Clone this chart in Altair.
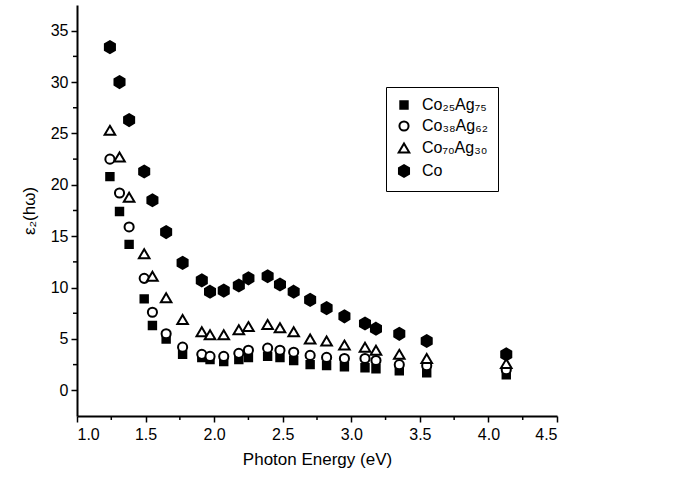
import altair as alt
import pandas as pd

# Photon energies (eV)
energy = [1.24, 1.31, 1.38, 1.49, 1.55, 1.65, 1.77, 1.91, 1.97, 2.07, 2.18, 2.25,
          2.39, 2.48, 2.58, 2.70, 2.82, 2.95, 3.10, 3.18, 3.35, 3.55, 4.13]

# epsilon_2 values per sample
co25ag75 = [20.8, 17.4, 14.2, 8.9, 6.3, 5.0, 3.5, 3.2, 3.0, 2.8, 3.0, 3.2,
            3.3, 3.2, 2.9, 2.5, 2.4, 2.3, 2.2, 2.1, 1.9, 1.7, 1.5]
co38ag62 = [22.5, 19.2, 15.9, 10.9, 7.6, 5.5, 4.2, 3.5, 3.3, 3.3, 3.6, 3.9,
            4.1, 3.9, 3.7, 3.4, 3.2, 3.1, 3.1, 2.9, 2.5, 2.4, 2.0]
co70ag30 = [25.3, 22.7, 18.8, 13.3, 11.1, 9.0, 6.9, 5.7, 5.4, 5.4, 5.9, 6.2,
            6.4, 6.1, 5.7, 5.0, 4.8, 4.4, 4.2, 3.9, 3.5, 3.1, 2.6]
co = [33.4, 30.0, 26.3, 21.3, 18.5, 15.4, 12.4, 10.7, 9.6, 9.7, 10.2, 10.9,
      11.1, 10.3, 9.6, 8.8, 8.0, 7.2, 6.5, 6.0, 5.5, 4.8, 3.5]

series_names = ["Co₂₅Ag₇₅", "Co₃₈Ag₆₂", "Co₇₀Ag₃₀", "Co"]

x_major = [1.0, 1.5, 2.0, 2.5, 3.0, 3.5, 4.0, 4.5]
x_minor = [1.25, 1.75, 2.25, 2.75, 3.25, 3.75, 4.25]
y_major = [0, 5, 10, 15, 20, 25, 30, 35]
y_minor = [2.5, 7.5, 12.5, 17.5, 22.5, 27.5, 32.5]

rows = []
for name, vals in zip(series_names, [co25ag75, co38ag62, co70ag30, co]):
    for e, v in zip(energy, vals):
        rows.append({"E": e, "eps": v, "series": name})
df = pd.DataFrame(rows)

FONT = "Liberation Sans"
tri = "M0,-0.85L1,0.85L-1,0.85Z"
hexa = "M0,-1L0.85,-0.5L0.85,0.5L0,1L-0.85,0.5L-0.85,-0.5Z"

x_scale = alt.Scale(domain=[1.0, 4.5], nice=False, zero=False)
y_scale = alt.Scale(domain=[-2.5, 37.5], nice=False, zero=False)

x_axis = alt.Axis(values=x_major, format=".1f", title="Photon Energy (eV)",
                  labelPadding=4, titlePadding=9)
y_axis = alt.Axis(values=y_major, format="d", title="ε₂(hω)",
                  labelPadding=3, titlePadding=12)

leg = alt.Legend(
    title=None, orient="none", legendX=309, legendY=82, padding=10,
    strokeColor="black", fillColor="white", labelFont=FONT, labelFontSize=16,
    labelColor="black", rowPadding=4, labelLimit=0,
    symbolStrokeWidth=2, symbolOpacity=1, labelOffset=10,
)

points = alt.Chart(df).mark_point(filled=True, opacity=1, strokeWidth=2).encode(
    x=alt.X("E:Q", scale=x_scale, axis=x_axis),
    y=alt.Y("eps:Q", scale=y_scale, axis=y_axis),
    shape=alt.Shape("series:N", scale=alt.Scale(domain=series_names,
                    range=["square", "circle", tri, hexa]), legend=leg),
    fill=alt.Fill("series:N", scale=alt.Scale(domain=series_names,
                  range=["black", "white", "white", "black"]), legend=leg),
    stroke=alt.Stroke("series:N", scale=alt.Scale(domain=series_names,
                      range=["black", "black", "black", "black"]), legend=leg),
    size=alt.Size("series:N", scale=alt.Scale(domain=series_names,
                  range=[55, 140, 200, 85]), legend=leg),
)

xminor = alt.Chart(pd.DataFrame({"E": x_minor})).mark_rule(color="black", strokeWidth=1.5).encode(
    x=alt.X("E:Q", scale=x_scale, axis=x_axis),
    y=alt.value(411), y2=alt.value(415),
)
yminor = alt.Chart(pd.DataFrame({"eps": y_minor})).mark_rule(color="black", strokeWidth=1.5).encode(
    y=alt.Y("eps:Q", scale=y_scale, axis=y_axis),
    x=alt.value(-4), x2=alt.value(0),
)

chart = alt.layer(points, xminor, yminor).properties(
    width=480, height=411,
    padding={"left": 77, "top": 5, "right": 116, "bottom": 71},
    autosize=alt.AutoSizeParams(type="none"),
).configure_view(stroke=None).configure_axis(
    grid=False, domainColor="black", domainWidth=2, tickColor="black", tickWidth=1.5,
    tickSize=6, labelFont=FONT, labelFontSize=16, labelColor="black",
    titleFont=FONT, titleFontSize=17, titleFontWeight="normal", titleColor="black",
)

chart.save("out.html", embed_options={"renderer": "svg", "actions": False})
